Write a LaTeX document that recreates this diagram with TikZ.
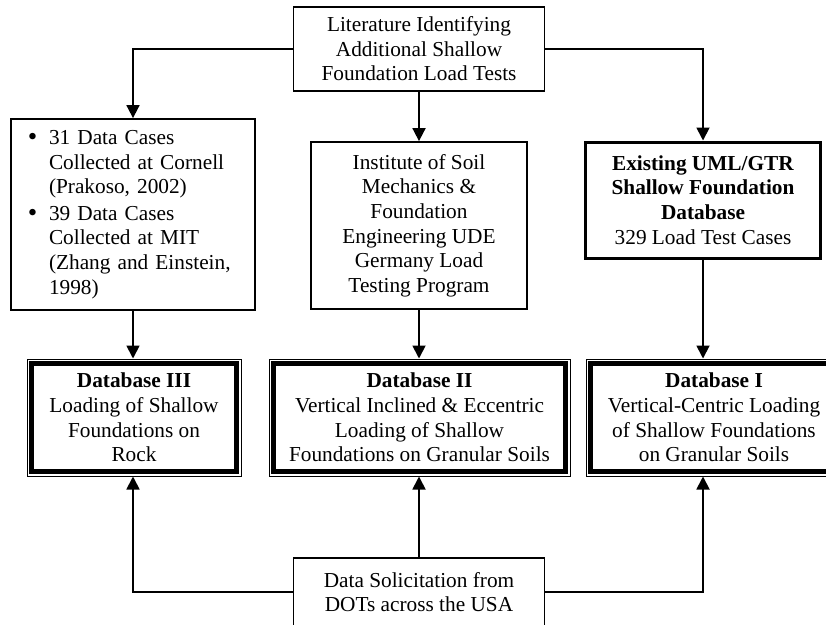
\documentclass[tikz,border=0pt]{standalone}
\usepackage{fontspec}
\setmainfont{Liberation Serif}
\usetikzlibrary{arrows.meta}
\newcommand{\bigbul}{\makebox[22pt][l]{\hspace*{1pt}{\fontsize{27}{24}\selectfont\raisebox{-1.2pt}{\textbullet}}}}
\begin{document}
\begin{tikzpicture}[x=1pt,y=-1pt,
  every node/.style={font=\fontsize{21.3}{24.6}\selectfont},
  box/.style={draw, line width=1.8pt, inner sep=0pt, align=center},
  thickbox/.style={draw, line width=3pt, inner sep=0pt, align=center},
  dbbox/.style={draw, line width=1pt, inner sep=0pt, align=center,
    minimum height=117pt,
    path picture={\draw[line width=5pt]
      ([shift={(4.5pt,-4.5pt)}]path picture bounding box.north west) rectangle
      ([shift={(-4.5pt,4.5pt)}]path picture bounding box.south east);}},
  arr/.style={line width=1.8pt, -{Triangle[width=13pt,length=13pt]}}
]
\clip (0,0) rectangle (826,624);
\fill[white] (0,0) rectangle (826,624);

\node[box, minimum width=251pt, minimum height=84pt] (top) at (419,49)
  {Literature Identifying\\Additional Shallow\\Foundation Load Tests};

\node[box, minimum width=244pt, minimum height=191pt, text width=212pt, align=left] (left) at (133,214.5)
  {\bigbul 31 Data Cases\\
   \hspace*{22pt}Collected at Cornell\\
   \hspace*{22pt}(Prakoso, 2002)\\[2pt]
   \bigbul 39 Data Cases\\
   \hspace*{22pt}Collected at MIT\\
   \hspace*{22pt}(Zhang and Einstein,\\
   \hspace*{22pt}1998)};

\node[box, minimum width=216pt, minimum height=167pt] (mid) at (419,225.5)
  {Institute of Soil\\Mechanics \&\\Foundation\\Engineering UDE\\Germany Load\\Testing Program};

\node[thickbox, minimum width=235pt, minimum height=116pt] (right) at (703,200)
  {\textbf{Existing UML/GTR}\\\textbf{Shallow Foundation}\\\textbf{Database}\\329 Load Test Cases};

\node[dbbox, minimum width=214pt] (db3) at (134,417.5)
  {\textbf{Database III}\\Loading of Shallow\\Foundations on\\Rock};
\node[dbbox, minimum width=301pt] (db2) at (419.5,417.5)
  {\textbf{Database II}\\Vertical Inclined \& Eccentric\\Loading of Shallow\\Foundations on Granular Soils};
\node[dbbox, minimum width=256pt] (db1) at (714,417.5)
  {\textbf{Database I}\\Vertical-Centric Loading\\of Shallow Foundations\\on Granular Soils};

\node[box, minimum width=251pt, minimum height=68pt] (bot) at (419,592)
  {Data Solicitation from\\DOTs across the USA};

\draw[arr] (top.west) -| (left.north);
\draw[arr] (top.east) -| (right.north);
\draw[arr] (top.south) -- (top.south |- mid.north);
\draw[arr] (left.south) -- (left.south |- db3.north);
\draw[arr] (mid.south) -- (mid.south |- db2.north);
\draw[arr] (right.south) -- (right.south |- db1.north);
\draw[arr] (bot.west) -| (left.south |- db3.south);
\draw[arr] (bot.north) -- (bot.north |- db2.south);
\draw[arr] (bot.east) -| (right.south |- db1.south);
\end{tikzpicture}
\end{document}
